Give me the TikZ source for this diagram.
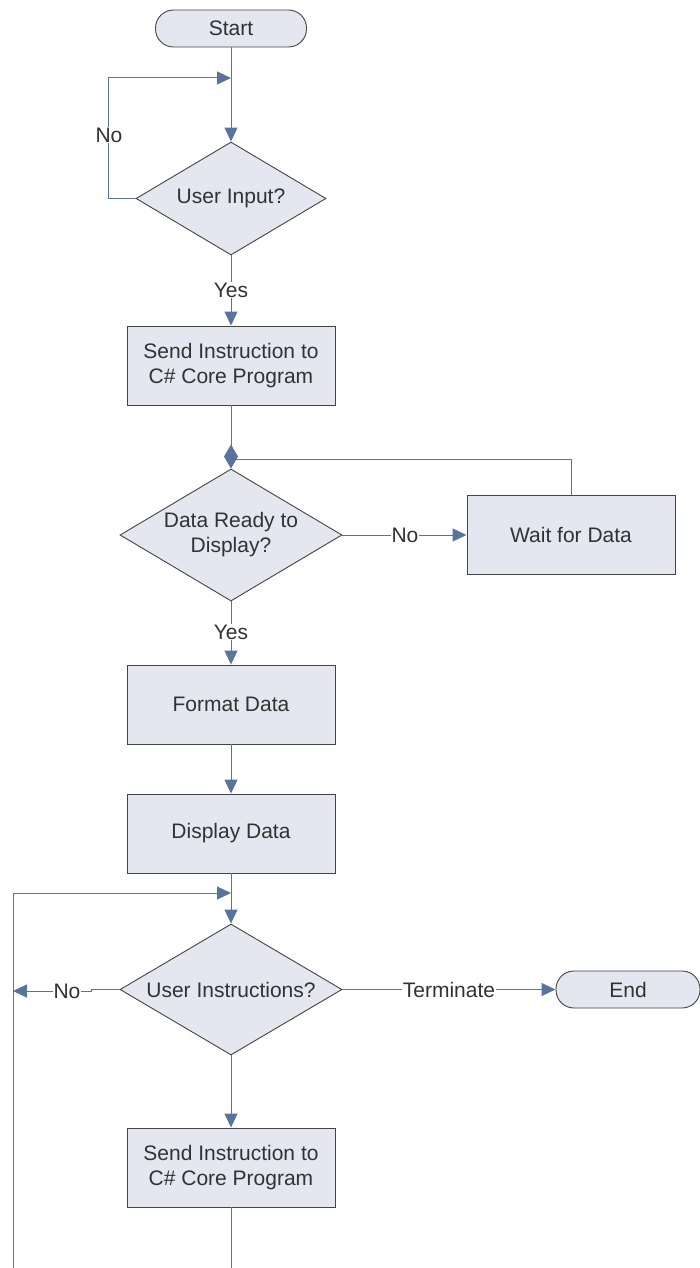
\documentclass[tikz,border=0pt]{standalone}
\usepackage{fontspec}
\setmainfont{Liberation Sans}
\usetikzlibrary{arrows.meta,shapes.geometric}
\definecolor{flowfill}{RGB}{228,231,239}
\definecolor{flowedge}{RGB}{68,68,68}
\definecolor{flowline}{RGB}{88,116,158}
\definecolor{flowtext}{RGB}{50,50,50}
\begin{document}
\begin{tikzpicture}[x=1pt,y=-1pt,
  font=\fontsize{21}{25}\selectfont, text=flowtext,
  base/.style={draw=flowedge, fill=flowfill, line width=0.9pt, inner sep=0pt, align=center},
  term/.style={base, rounded corners=18pt, minimum height=37pt},
  proc/.style={base, minimum width=208pt, minimum height=79pt},
  decision/.style={base, diamond, aspect=1.7},
  flow/.style={draw=flowline, line width=1pt},
  arr/.style={flow, -{Triangle[length=14pt,width=13pt]}},
  junction/.style={flow, -{Kite[length=24pt,width=14pt,inset=12pt]}},
  lbl/.style={fill=white, inner sep=1pt, text=flowtext}]
\useasboundingbox (0,0) rectangle (699,1268);

% shapes
\node[term, minimum width=151pt] (start) at (231,28.5) {Start};
\node[decision, minimum width=190pt, minimum height=113pt,
      label={center:User Input?}] (d1) at (231,198.5) {};
\node[proc] (send1) at (231,365.5) {Send Instruction to\\C\# Core Program};
\node[decision, minimum width=222pt, minimum height=132pt,
      label={[align=center]center:Data Ready to\\Display?}] (d2) at (231,535) {};
\node[proc] (wait) at (571,535) {Wait for Data};
\node[proc] (format) at (231,704.5) {Format Data};
\node[proc] (display) at (231,833.5) {Display Data};
\node[decision, minimum width=222pt, minimum height=131pt,
      label={center:User Instructions?}] (d3) at (231,989.5) {};
\node[term, minimum width=144pt] (end) at (628,989.5) {End};
\node[proc] (send2) at (231,1167.5) {Send Instruction to\\C\# Core Program};

% helper points for the loops
\coordinate (j1) at (231,78);
\coordinate (l1) at (108,78);
\coordinate (j2) at (231,459);
\coordinate (j3) at (231,893);
\coordinate (l3top) at (13,893);
\coordinate (l3bot) at (13,1268);
\coordinate (jog) at (91,991);
\coordinate (n3) at (13,991);
\coordinate (bot) at (231,1268);

% connectors
\draw[arr] (start) -- (d1);
\draw[arr] (d1.west) -| (l1) -- (j1);
\draw[arr] (d1.south) -- (send1.north);
\draw[junction] (send1.south) -- (d2.north);
\draw[arr] (d2.east) -- (wait.west);
\draw[flow] (wait.north) |- (j2);
\draw[arr] (d2.south) -- (format.north);
\draw[arr] (format.south) -- (display.north);
\draw[arr] (display.south) -- (d3.north);
\draw[arr] (l3bot) -- (l3top) -- (j3);
\draw[arr] (d3.west) -- (d3.west -| jog) -- (jog) -- (n3);
\draw[arr] (d3.east) -- (end.west);
\draw[arr] (d3.south) -- (send2.north);
\draw[flow] (send2.south) -- (bot);

% connector labels
\node[lbl] (no1) at (109,135) {No};
\node[lbl] (yes1) at (231,290) {Yes};
\node[lbl, inner sep=0.5pt] (no2) at (405,535) {No};
\node[lbl] (yes2) at (231,632) {Yes};
\node[lbl, inner sep=0.5pt] (no3) at (67,991) {No};
\node[lbl, inner sep=0.5pt] (term3) at (449,989.5) {Terminate};
\end{tikzpicture}
\end{document}
